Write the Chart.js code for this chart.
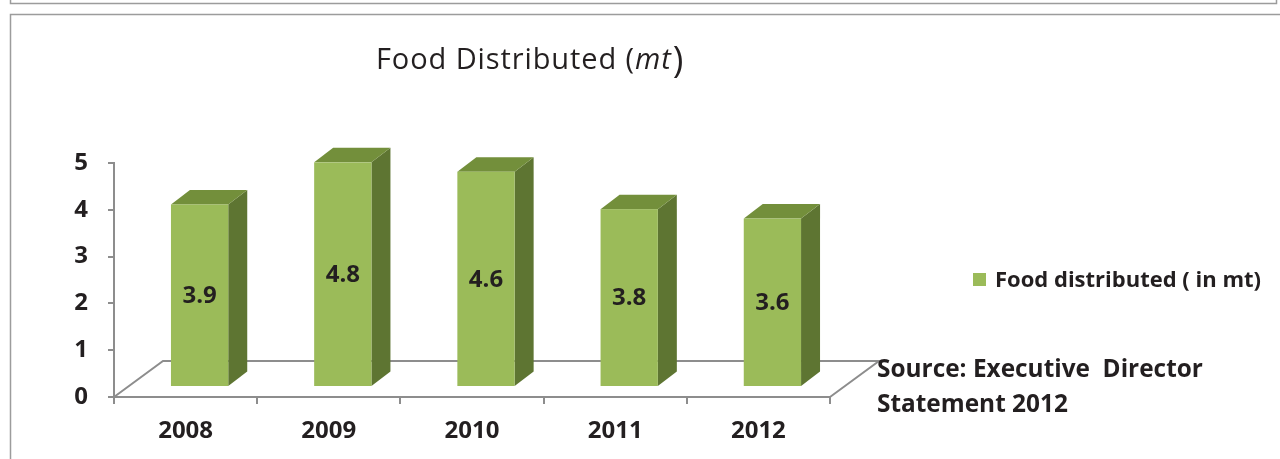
<!DOCTYPE html>
<html>
<head>
<meta charset="utf-8">
<script src="https://cdn.jsdelivr.net/npm/chart.js@4"></script>
<style>
  html, body { margin: 0; padding: 0; background: #fff; }
  .wrap { width: 1280px; height: 459px; position: relative; }
</style>
</head>
<body>
<div class="wrap"><canvas class="foodChart"></canvas></div>
<script>
"use strict";

const years = ["2008", "2009", "2010", "2011", "2012"];
const foodDistributed = [3.9, 4.8, 4.6, 3.8, 3.6];
const yTickValues = [0, 1, 2, 3, 4, 5];
const seriesName = "Food distributed ( in mt)";
const sourceLines = ["Source: Executive  Director", "Statement 2012"];

const FONT = "'Open Sans', 'DejaVu Sans', sans-serif";
const TEXT = "#231f20";
const AXIS = "#8d8d8d";
const FRONT = "#9bbb59";
const SIDE = "#5e7532";
const TOP = "#738f3b";

// depth offsets for the fake 3D look
const FLOOR_DX = 49, FLOOR_DY = -36;
const FACE_DX = 14, FACE_DY = -10;
const BAR_DX = 19, BAR_DY = -14.5;

const bar3d = {
  id: "bar3d",
  beforeDraw(chart) {
    const c = chart.ctx;
    c.save();
    c.strokeStyle = "#9c9c9c";
    c.lineWidth = 1.5;
    // frame lines of the page
    c.beginPath();
    c.moveTo(10.5, 0);
    c.lineTo(10.5, 3.5);
    c.lineTo(1276.5, 3.5);
    c.lineTo(1276.5, 0);
    c.moveTo(10.5, 459);
    c.lineTo(10.5, 14.5);
    c.lineTo(1280, 14.5);
    c.stroke();
    c.restore();
  },
  beforeDatasetsDraw(chart) {
    const c = chart.ctx;
    const a = chart.chartArea;
    c.save();
    c.strokeStyle = AXIS;
    c.lineWidth = 2;
    c.beginPath();
    c.moveTo(a.left, a.bottom);
    c.lineTo(a.left + FLOOR_DX, a.bottom + FLOOR_DY);
    c.lineTo(a.right + FLOOR_DX, a.bottom + FLOOR_DY);
    c.lineTo(a.right, a.bottom);
    c.stroke();
    c.restore();
  },
  beforeDatasetDraw() {
    return false;
  },
  afterDatasetsDraw(chart) {
    const c = chart.ctx;
    const meta = chart.getDatasetMeta(0);
    c.save();
    meta.data.forEach((el, i) => {
      const p = el.getProps(["x", "y", "base", "width"], true);
      const l = p.x - p.width / 2 + FACE_DX;
      const r = p.x + p.width / 2 + FACE_DX;
      const t = p.y + FACE_DY;
      const b = p.base + FACE_DY;
      // side
      c.fillStyle = SIDE;
      c.beginPath();
      c.moveTo(r, t);
      c.lineTo(r + BAR_DX, t + BAR_DY);
      c.lineTo(r + BAR_DX, b + BAR_DY);
      c.lineTo(r, b);
      c.closePath();
      c.fill();
      // top
      c.fillStyle = TOP;
      c.beginPath();
      c.moveTo(l, t);
      c.lineTo(l + BAR_DX, t + BAR_DY);
      c.lineTo(r + BAR_DX, t + BAR_DY);
      c.lineTo(r, t);
      c.closePath();
      c.fill();
      // front
      c.fillStyle = FRONT;
      c.fillRect(l, t, r - l, b - t);
      // value label
      c.fillStyle = TEXT;
      c.font = "bold 24px " + FONT;
      c.textAlign = "center";
      c.textBaseline = "middle";
      c.fillText(foodDistributed[i].toFixed(1), (l + r) / 2, (t + b) / 2 + 1);
    });
    c.restore();
  },
  afterDraw(chart) {
    const c = chart.ctx;
    c.save();
    c.fillStyle = TEXT;
    c.textBaseline = "alphabetic";
    c.textAlign = "left";
    // title with italic unit
    const f1 = "29px " + FONT;
    const f2 = "italic 29px " + FONT;
    const f3 = "36px " + FONT;
    let x = 376;
    const by = 69;
    c.letterSpacing = "0.9px";
    c.font = f1;
    c.fillText("Food Distributed (", x, by);
    x += c.measureText("Food Distributed (").width;
    c.font = f2;
    c.fillText("mt", x, by);
    x += c.measureText("mt").width;
    c.font = f3;
    c.fillText(")", x + 1, by + 3);
    c.letterSpacing = "0px";

    // legend
    c.fillStyle = FRONT;
    c.fillRect(973, 273, 13, 13);
    c.fillStyle = TEXT;
    c.font = "bold 22px " + FONT;
    c.fillText(seriesName, 995, 287);

    // source note
    c.font = "bold 24.4px " + FONT;
    c.fillText(sourceLines[0], 877, 377);
    c.fillText(sourceLines[1], 877, 412);
    c.restore();
  },
};

const ctx = document.querySelector(".foodChart");

const foodChart = new Chart(ctx, {
  type: "bar",
  data: {
    labels: years,
    datasets: [
      {
        label: seriesName,
        data: foodDistributed,
        backgroundColor: FRONT,
        barPercentage: 0.4,
        categoryPercentage: 1,
      },
    ],
  },
  options: {
    responsive: true,
    maintainAspectRatio: false,
    animation: false,
    layout: {
      padding: { left: 0, top: 163, right: 450, bottom: 0 },
    },
    plugins: {
      legend: { display: false },
      tooltip: { enabled: false },
    },
    scales: {
      x: {
        afterFit: (s) => {
          s.height = 62;
        },
        grid: {
          offset: true,
          drawOnChartArea: false,
          tickLength: 7,
          color: AXIS,
          lineWidth: 2,
        },
        border: { color: AXIS, width: 2 },
        ticks: {
          color: TEXT,
          padding: 13,
          font: { family: FONT, size: 24, weight: "bold" },
        },
      },
      y: {
        min: 0,
        max: 5,
        afterFit: (s) => {
          s.width = 114;
        },
        afterBuildTicks: (s) => {
          s.ticks = yTickValues.map((v) => ({ value: v }));
        },
        grid: {
          drawOnChartArea: false,
          tickLength: 6,
          color: AXIS,
          lineWidth: 2,
        },
        border: { color: AXIS, width: 2 },
        ticks: {
          color: TEXT,
          padding: 20,
          font: { family: FONT, size: 24, weight: "bold" },
        },
      },
    },
  },
  plugins: [bar3d],
});
</script>
</body>
</html>
